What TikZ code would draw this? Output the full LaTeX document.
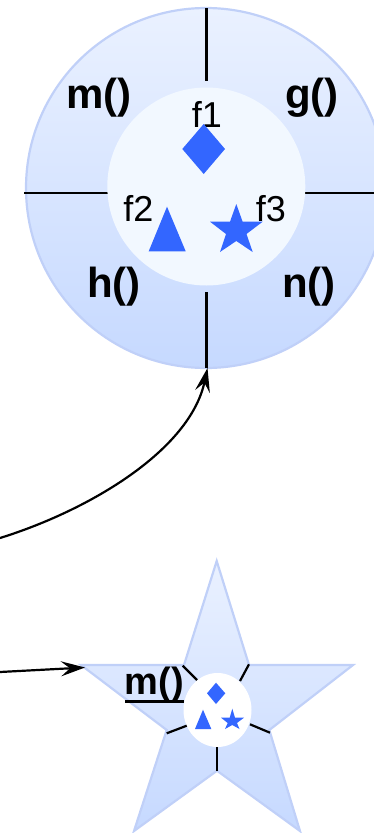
\documentclass[tikz,border=0pt]{standalone}
\usepackage{fontspec}
\setmainfont{Liberation Sans}
\usetikzlibrary{arrows.meta,shapes.geometric}
\definecolor{edgeblue}{HTML}{C0D0F8}
\definecolor{topblue}{HTML}{EAF1FF}
\definecolor{botblue}{HTML}{C6D9FF}
\definecolor{markblue}{HTML}{3366FF}
\definecolor{coreblue}{HTML}{F2F8FF}
\tikzset{
  body/.style={draw=edgeblue,line width=2.2pt,top color=topblue,bottom color=botblue},
  core/.style={fill=coreblue,draw=none},
  glyph/.style={fill=markblue,draw=none},
  divider/.style={draw=black,line width=2.8pt},
  tickline/.style={draw=black,line width=2.2pt},
  wire/.style={draw=black,line width=2.2pt,-{Stealth[length=24pt,width=15pt,inset=9pt]}},
  bigtext/.style={font=\bfseries\fontsize{42}{42}\selectfont,inner sep=0pt,anchor=base},
  smalltext/.style={font=\fontsize{36}{36}\selectfont,inner sep=0pt,anchor=base},
}
\begin{document}
\begin{tikzpicture}[x=1pt,y=-1pt]
\useasboundingbox (0,0) rectangle (374,833);
% large circle
\node[body,circle,minimum size=360pt,inner sep=0pt] (wheel) at (206,188) {};
\draw[divider] (206.5,8) -- (206.5,81);
\draw[divider] (206.5,292) -- (206.5,368);
\draw[divider] (24,193) -- (108,193);
\draw[divider] (305,193) -- (374,193);
\node[core,circle,minimum size=198pt,inner sep=0pt] (hub) at (206.3,186.5) {};
\node[bigtext] (lm) at (99,108) {m()};
\node[bigtext] (lg) at (312,108) {g()};
\node[bigtext] (lh) at (114,297) {h()};
\node[bigtext] (ln) at (309,297) {n()};
\node[smalltext] (f1) at (207,127) {f1};
\node[smalltext] (f2) at (138.5,221) {f2};
\node[smalltext] (f3) at (271,221) {f3};
\fill[glyph] (182.3,149) -- (203.7,124) -- (225,149) -- (203.7,174) -- cycle;
\fill[glyph] (148.7,251.3) -- (185.7,251.3) -- (167,206.7) -- cycle;
\fill[glyph] (236.3,204) -- (242.6,221.7) -- (262.7,221.7) -- (246.5,234) -- (252.7,252) -- (236.3,241) -- (220,252) -- (226,234) -- (210,221.7) -- (230,221.7) -- cycle;
% large star
\path[body] (216.7,561) -- (249,665) -- (353,665) -- (269.3,730) -- (300,831) -- (217,770.7) -- (134,831) -- (166.7,730) -- (81,665) -- (184,665) -- cycle;
\node[fill=white,draw=none,ellipse,minimum width=68pt,minimum height=74pt,inner sep=0pt] (smallhub) at (217.5,710) {};
\draw[tickline] (182.7,665.7) -- (197,680);
\draw[tickline] (249,664.3) -- (240,681);
\draw[tickline] (166.7,733.3) -- (186.7,725.7);
\draw[tickline] (270,732.7) -- (250,724.3);
\draw[tickline] (217,747.3) -- (217,770.7);
\node[bigtext,font=\bfseries\fontsize{38}{38}\selectfont] (lsm) at (154.5,694) {m()};
\draw[black,line width=3pt] (125,701.7) -- (184,701.7);
\fill[glyph] (207,693.3) -- (216,682.7) -- (225.3,693.3) -- (216,704) -- cycle;
\fill[glyph] (195,729) -- (211.3,729) -- (203,709.7) -- cycle;
\fill[glyph] (232.3,708.7) -- (235,717.7) -- (244,717.7) -- (237,723) -- (239.5,729) -- (232.3,725) -- (225,729) -- (227.7,723) -- (221,717.7) -- (229.7,717.7) -- cycle;
% connectors
\coordinate (w1) at (0,538);
\coordinate (w1end) at (207.5,368);
\coordinate (w2) at (0,672);
\coordinate (w2end) at (85,667.5);
\draw[wire] (w1) .. controls (90,510) and (190,450) .. (w1end);
\draw[wire] (w2) -- (w2end);
\end{tikzpicture}
\end{document}
